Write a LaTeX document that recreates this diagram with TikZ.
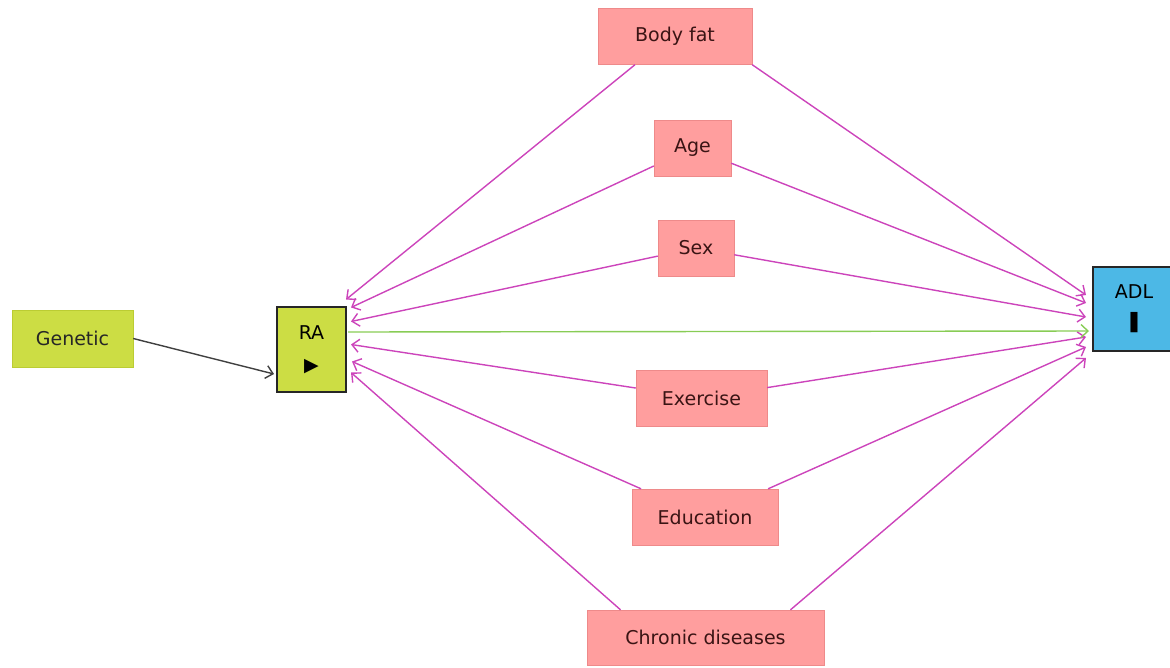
\documentclass[tikz,border=0pt]{standalone}
\usepackage{fontspec}
\setmainfont{DejaVu Sans}
\usepackage{tikz}
\usetikzlibrary{calc}
\usetikzlibrary{arrows.meta}
\definecolor{covfill}{HTML}{FF9E9E}
\definecolor{covline}{HTML}{EE8A8A}
\definecolor{covtext}{HTML}{3A1414}
\definecolor{ancfill}{HTML}{CCDD44}
\definecolor{ancline}{HTML}{BBCC33}
\definecolor{outfill}{HTML}{4CB8E6}
\definecolor{biaspath}{HTML}{CC44BB}
\definecolor{causpath}{HTML}{88CC55}
\tikzset{
    covar/.style={
           rectangle,
           draw=covline, fill=covfill, text=covtext,
           minimum height=56pt,
           inner sep=2pt,
           text centered,
           },
    anc/.style={
           rectangle,
           draw=ancline, fill=ancfill, text=black!85,
           minimum height=57pt,
           inner sep=2pt,
           text centered,
           },
    focal/.style={
           rectangle,
           draw=black!85, line width=2pt,
           minimum height=84pt,
           inner sep=2pt,
           align=center,
           },
}

\begin{document}
\begin{tikzpicture}[x=1pt,y=-1pt,>={Straight Barb[length=7pt,width=13pt]},
      font=\fontsize{19}{22}\selectfont]
      \useasboundingbox (0,0) rectangle (1170,667);
      \node[covar, minimum width=154pt] (fat)   at (675,36.5)  {Body fat};
      \node[covar, minimum width=77pt]  (age)   at (692.5,148) {Age};
      \node[covar, minimum width=76pt]  (sex)   at (696,248)   {Sex};
      \node[covar, minimum width=131pt] (exer)  at (701.5,398) {Exercise};
      \node[covar, minimum width=146pt] (edu)   at (705,517)   {Education};
      \node[covar, minimum width=237pt, minimum height=55pt] (chron) at (705.5,637.5) {Chronic diseases};
      \node[anc, minimum width=121pt]   (gen)   at (72.5,338.5) {Genetic};
      \node[focal, fill=ancfill, minimum width=69pt, minimum height=85pt] (ra) at (311.5,349.5) {RA\\[10pt]▶};
      \node[focal, fill=outfill, minimum width=82pt] (adl) at (1134,309) {ADL\\[9pt]\scalebox{1}[1.4]{▮}};
      % biasing paths into RA
      \path[->, biaspath, line width=1.4pt]
      ($(fat.south)+(-40,0)$) edge ($(ra.east)+(-1,-50)$)
      (age)                   edge ($(ra.east)+(4,-42)$)
      (sex)                   edge ($(ra.east)+(4,-28)$)
      (exer)                  edge ($(ra.east)+(4,-5)$)
      (edu)                   edge ($(ra.east)+(5,12)$)
      ($(chron.north)+(-85,0)$) edge ($(ra.east)+(4,23)$);
      % biasing paths into ADL
      \path[->, biaspath, line width=1.4pt]
      (fat.south east)        edge ($(adl.west)+(-6,-14)$)
      (age)                   edge ($(adl.west)+(-6,-6)$)
      (sex)                   edge ($(adl.west)+(-6,8)$)
      (exer)                  edge ($(adl.west)+(-6,28)$)
      (edu)                   edge ($(adl.west)+(-6,38)$)
      ($(chron.north)+(85,0)$) edge ($(adl.west)+(-6,49)$);
      % causal path
      \path[->, line width=1.4pt]
      ($(ra.east)+(1,-17.5)$) edge[causpath] ($(adl.west)+(-3,22)$)
      (gen.east)              edge[black!75] ($(ra.west)+(-2,24.5)$);
\end{tikzpicture}
\end{document}
